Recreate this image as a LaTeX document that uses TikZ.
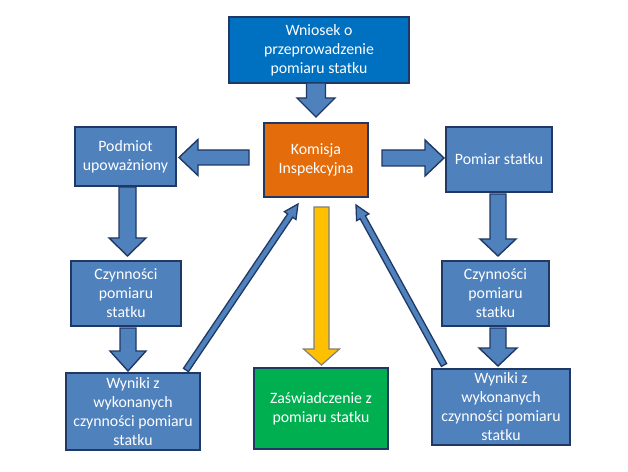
\documentclass[tikz,border=0pt]{standalone}
\usepackage{fontspec}
\setmainfont{Carlito}
\usetikzlibrary{calc}
\definecolor{navy}{HTML}{1F3864}
\definecolor{boxblue}{HTML}{4F81BD}
\definecolor{topblue}{HTML}{0070C0}
\definecolor{orangeb}{HTML}{E46C0A}
\definecolor{greenb}{HTML}{00B050}
\definecolor{yellowb}{HTML}{FFC000}
\definecolor{yellowedge}{HTML}{7F7F7F}
\newcommand{\barrow}[6]{%
  \coordinate (ba-c) at ($(#3)!#6!(#2)$);
  \draw[#1] ($(#2)!#4!90:(#3)$) -- ($(ba-c)!#4!90:(#3)$) -- ($(ba-c)!#5!90:(#3)$) -- (#3)
    -- ($(ba-c)!#5!-90:(#3)$) -- ($(ba-c)!#4!-90:(#3)$) -- ($(#2)!#4!-90:(#3)$) -- cycle;
}
\tikzset{
  box/.style={draw=navy, line width=1.6bp, text=white, align=center, inner sep=0pt,
    font=\fontsize{15.8bp}{19bp}\selectfont, fill=boxblue},
  bluearrow/.style={fill=boxblue, draw=navy, line width=1.4bp, line join=miter},
  yellowarrow/.style={fill=yellowb, draw=yellowedge, line width=1.2bp, line join=miter},
  thinarrow/.style={fill=boxblue, draw=navy, line width=1.3bp, line join=miter}
}
\begin{document}
\begin{tikzpicture}[x=1bp,y=-1bp]
\useasboundingbox (0,0) rectangle (628,472);
\fill[white] (0,0) rectangle (628,472);

\node[box, fill=topblue, minimum width=180bp, minimum height=66bp] (wniosek) at (319,50)
  {Wniosek o\\przeprowadzenie\\pomiaru statku};
\node[box, fill=orangeb, minimum width=104bp, minimum height=74bp] (komisja) at (316,160)
  {Komisja\\Inspekcyjna};
\node[box, minimum width=101bp, minimum height=59bp] (podmiot) at (125.5,156.5)
  {Podmiot\\upoważniony};
\node[box, minimum width=106bp, minimum height=65bp] (pomiar) at (499,159.5)
  {Pomiar statku};
\node[box, minimum width=110bp, minimum height=65bp] (czynL) at (126,293.5)
  {Czynności\\pomiaru\\statku};
\node[box, minimum width=107bp, minimum height=65bp] (czynR) at (495.5,293.5)
  {Czynności\\pomiaru\\statku};
\node[box, minimum width=134bp, minimum height=77bp] (wynikiL) at (133,411.5)
  {Wyniki z\\wykonanych\\czynności pomiaru\\statku};
\node[box, fill=greenb, minimum width=134bp, minimum height=81bp] (zasw) at (321,408.5)
  {Zaświadczenie z\\pomiaru statku};
\node[box, minimum width=138bp, minimum height=76bp] (wynikiR) at (501,407)
  {Wyniki z\\wykonanych\\czynności pomiaru\\statku};

% arrow end points
\coordinate (a1s) at (316,83);   \coordinate (a1e) at (316,117);
\coordinate (a2s) at (249,157.5); \coordinate (a2e) at (179,157.5);
\coordinate (a3s) at (382,158);  \coordinate (a3e) at (444,158);
\coordinate (a4s) at (127.5,187); \coordinate (a4e) at (127.5,256);
\coordinate (a5s) at (128,328);  \coordinate (a5e) at (128,371);
\coordinate (a6s) at (498,194);  \coordinate (a6e) at (498,256);
\coordinate (a7s) at (498,328);  \coordinate (a7e) at (498,366);
\coordinate (a8s) at (321.5,207); \coordinate (a8e) at (321.5,365);
\coordinate (a9s) at (186,370);  \coordinate (a9e) at (298,204);
\coordinate (a10s) at (444,365); \coordinate (a10e) at (356,205);

\barrow{bluearrow}{a1s}{a1e}{9.5bp}{19bp}{19bp}
\barrow{bluearrow}{a2s}{a2e}{7.5bp}{18bp}{19bp}
\barrow{bluearrow}{a3s}{a3e}{8bp}{18bp}{19bp}
\barrow{bluearrow}{a4s}{a4e}{8.5bp}{18.5bp}{18bp}
\barrow{bluearrow}{a5s}{a5e}{8bp}{18bp}{20bp}
\barrow{bluearrow}{a6s}{a6e}{8bp}{18bp}{17bp}
\barrow{bluearrow}{a7s}{a7e}{8bp}{19bp}{18bp}
\barrow{yellowarrow}{a8s}{a8e}{7.5bp}{18bp}{16bp}
\barrow{thinarrow}{a9s}{a9e}{3bp}{7bp}{14bp}
\barrow{thinarrow}{a10s}{a10e}{3bp}{7bp}{14bp}
\end{tikzpicture}
\end{document}
